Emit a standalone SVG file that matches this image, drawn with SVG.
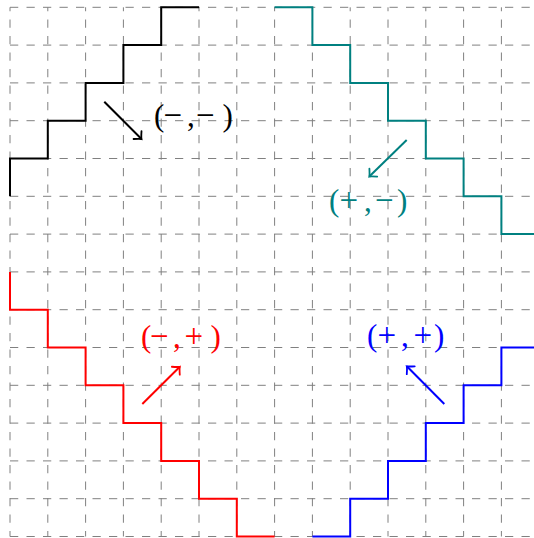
<svg xmlns="http://www.w3.org/2000/svg" width="534" height="538" viewBox="0 0 534 538">
<style>
.bg{fill:#ffffff}
.gv{stroke:#808080;stroke-width:1;stroke-dasharray:8.25 8.25;stroke-dashoffset:2.75;fill:none}
.gh{stroke:#808080;stroke-width:1;stroke-dasharray:8.25 8.25;fill:none}
.stair{fill:none;stroke-width:2;stroke-linejoin:miter;stroke-linecap:butt}
.arr{fill:none;stroke-width:2}
.lab{font-family:"Liberation Serif","Times New Roman",serif;font-size:31px}
.sg{font-size:33px}
.k{stroke:#000000}
.t{stroke:#008080}
.r{stroke:#ff0000}
.b{stroke:#0000ff}
</style>
<defs>
<marker id="ah-k" markerUnits="userSpaceOnUse" viewBox="-8 -8 10 16" refX="0" refY="0" markerWidth="10" markerHeight="16" orient="auto" overflow="visible"><path d="M-5.6,-5.6 Q-1.6,-1 0,0 Q-1.6,1 -5.6,5.6" fill="none" stroke="#000000" stroke-width="1.8" stroke-linecap="round"/></marker>
<marker id="ah-t" markerUnits="userSpaceOnUse" viewBox="-8 -8 10 16" refX="0" refY="0" markerWidth="10" markerHeight="16" orient="auto" overflow="visible"><path d="M-5.6,-5.6 Q-1.6,-1 0,0 Q-1.6,1 -5.6,5.6" fill="none" stroke="#008080" stroke-width="1.8" stroke-linecap="round"/></marker>
<marker id="ah-r" markerUnits="userSpaceOnUse" viewBox="-8 -8 10 16" refX="0" refY="0" markerWidth="10" markerHeight="16" orient="auto" overflow="visible"><path d="M-5.6,-5.6 Q-1.6,-1 0,0 Q-1.6,1 -5.6,5.6" fill="none" stroke="#ff0000" stroke-width="1.8" stroke-linecap="round"/></marker>
<marker id="ah-b" markerUnits="userSpaceOnUse" viewBox="-8 -8 10 16" refX="0" refY="0" markerWidth="10" markerHeight="16" orient="auto" overflow="visible"><path d="M-5.6,-5.6 Q-1.6,-1 0,0 Q-1.6,1 -5.6,5.6" fill="none" stroke="#0000ff" stroke-width="1.8" stroke-linecap="round"/></marker>
</defs>
<rect class="bg" x="0" y="0" width="534" height="538"/>
<g id="grid">
<path class="gv" d="M10,536.5V7.3 M47.8,536.5V7.3 M85.6,536.5V7.3 M123.4,536.5V7.3 M161.2,536.5V7.3 M199,536.5V7.3 M236.8,536.5V7.3 M274.6,536.5V7.3 M312.4,536.5V7.3 M350.2,536.5V7.3 M388,536.5V7.3 M425.8,536.5V7.3 M463.6,536.5V7.3 M501.4,536.5V7.3"/>
<path class="gh" d="M10,7.3H540 M10,45.1H540 M10,82.9H540 M10,120.7H540 M10,158.5H540 M10,196.3H540 M10,234.1H540 M10,271.9H540 M10,309.7H540 M10,347.5H540 M10,385.3H540 M10,423.1H540 M10,460.9H540 M10,498.7H540 M10,536.5H540"/>
</g>
<g id="path-minus-minus">
<path class="stair k" d="M10,196.3V158.5H47.8V120.7H85.6V82.9H123.4V45.1H161.2V7.3H199"/>
<text class="lab" y="125.5" fill="#000000"><tspan x="154">(</tspan><tspan class="sg" x="163.5">−</tspan><tspan x="187">,</tspan><tspan class="sg" x="196">−</tspan><tspan x="222.5">)</tspan></text>
</g>
<g id="path-plus-minus">
<path class="stair t" d="M274.6,7.3H312.4V45.1H350.2V82.9H388V120.7H425.8V158.5H463.6V196.3H501.4V234.1H540"/>
<text class="lab" y="210.5" fill="#008080"><tspan x="329">(</tspan><tspan class="sg" x="339.5">+</tspan><tspan x="364">,</tspan><tspan class="sg" x="375">−</tspan><tspan x="397">)</tspan></text>
</g>
<g id="path-minus-plus">
<path class="stair r" d="M10,271.9V309.7H47.8V347.5H85.6V385.3H123.4V423.1H161.2V460.9H199V498.7H236.8V536.5H274.6"/>
<text class="lab" y="347" fill="#ff0000"><tspan x="141">(</tspan><tspan class="sg" x="150">−</tspan><tspan x="173">,</tspan><tspan class="sg" x="184.5">+</tspan><tspan x="210.5">)</tspan></text>
</g>
<g id="path-plus-plus">
<path class="stair b" d="M312.4,536.5H350.2V498.7H388V460.9H425.8V423.1H463.6V385.3H501.4V347.5H540"/>
<text class="lab" y="346" fill="#0000ff"><tspan x="367">(</tspan><tspan class="sg" x="377.5">+</tspan><tspan x="401">,</tspan><tspan class="sg" x="413.5">+</tspan><tspan x="434">)</tspan></text>
</g>
<g id="connectors">
<line class="arr k" x1="104.3" y1="101.7" x2="141.5" y2="139" marker-end="url(#ah-k)"/>
<line class="arr t" x1="406.7" y1="140" x2="369.3" y2="176.5" marker-end="url(#ah-t)"/>
<line class="arr r" x1="142.3" y1="404" x2="179.8" y2="366.8" marker-end="url(#ah-r)"/>
<line class="arr b" x1="444.3" y1="404" x2="406.8" y2="366.3" marker-end="url(#ah-b)"/>
</g>
</svg>
